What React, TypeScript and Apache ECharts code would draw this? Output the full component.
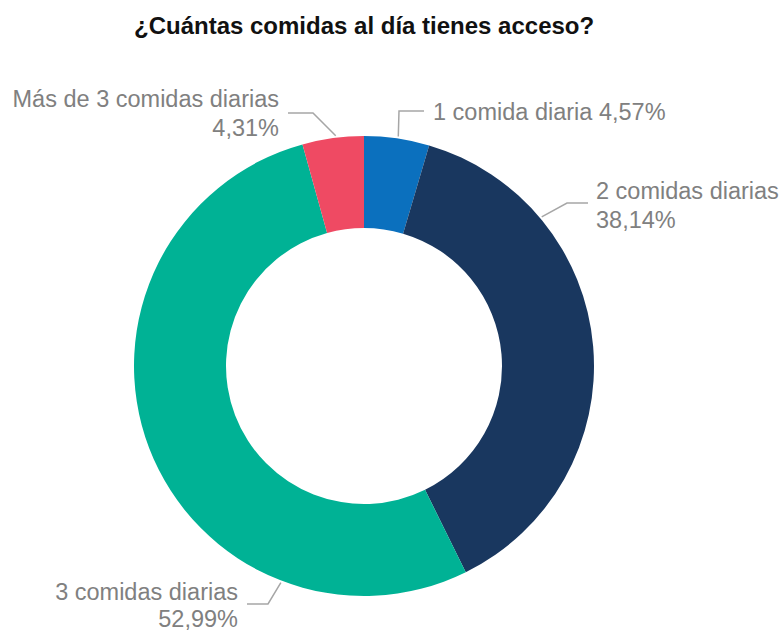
import React, { useEffect, useRef } from "react";
import * as echarts from "echarts";

const TITLE = "¿Cuántas comidas al día tienes acceso?";
const categories = ["1 comida diaria", "2 comidas diarias", "3 comidas diarias", "Más de 3 comidas diarias"];
const values = [4.57, 38.14, 52.99, 4.31];
const valueLabels = ["4,57%", "38,14%", "52,99%", "4,31%"];
const colors = ["#0B70BE", "#19375F", "#00B295", "#EF4A63"];
const labelSeparators = [" ", "\n", "\n", "\n"];

// label layout: [anchor angle (deg, math), elbow x, elbow y, end x, text x, text y, align]
const CENTER = [364, 366];
const OUTER_R = 230;
const INNER_R = 138;
const labelPlacement: [number, number, number, number, number, number, string][] = [
  [81.5, 399, 111, 424, 433, 112, "left"],
  [40, 567, 203, 588, 596, 205, "left"],
  [-111, 268, 604, 247, 238, 605, "right"],
  [97, 313, 113, 288, 279, 113, "right"],
];

export default function App() {
  const ref = useRef<HTMLDivElement>(null);
  useEffect(() => {
    if (!ref.current) return;
    const chart = echarts.init(ref.current, null, { renderer: "svg" });
    chart.setOption({
      animation: false,
      backgroundColor: "#ffffff",
      title: {
        text: TITLE,
        left: 129,
        top: 8,
        textStyle: {
          fontFamily: "Liberation Sans, Arial, sans-serif",
          fontSize: 24,
          fontWeight: "bold",
          color: "#111111",
        },
      },
      series: [
        {
          type: "pie",
          center: CENTER,
          radius: [INNER_R, OUTER_R],
          startAngle: 90,
          clockwise: true,
          avoidLabelOverlap: false,
          data: categories.map((c, i) => ({
            name: c,
            value: values[i],
            itemStyle: { color: colors[i] },
            label: {
              formatter: c + labelSeparators[i] + valueLabels[i],
              lineHeight: i === 2 ? 27 : 29,
            },
          })),
          label: {
            show: true,
            color: "#808080",
            fontFamily: "Liberation Sans, Arial, sans-serif",
            fontSize: 23.5,
            lineHeight: 29,
            overflow: "none",
          },
          labelLine: {
            show: true,
            lineStyle: { color: "#a6a6a6", width: 1.5 },
          },
          labelLayout: (params: any) => {
            const p = labelPlacement[params.dataIndex];
            const a = (p[0] * Math.PI) / 180;
            const sx = CENTER[0] + (OUTER_R + 2) * Math.cos(a);
            const sy = CENTER[1] - (OUTER_R + 2) * Math.sin(a);
            return {
              x: p[4],
              y: p[5],
              align: p[6],
              verticalAlign: "middle",
              labelLinePoints: [
                [sx, sy],
                [p[1], p[2]],
                [p[3], p[2]],
              ],
            };
          },
        },
      ],
    });
    return () => chart.dispose();
  }, []);
  return (
    <div
      ref={ref}
      style={{ position: "absolute", left: 0, top: 0, width: 783, height: 633 }}
    />
  );
}
